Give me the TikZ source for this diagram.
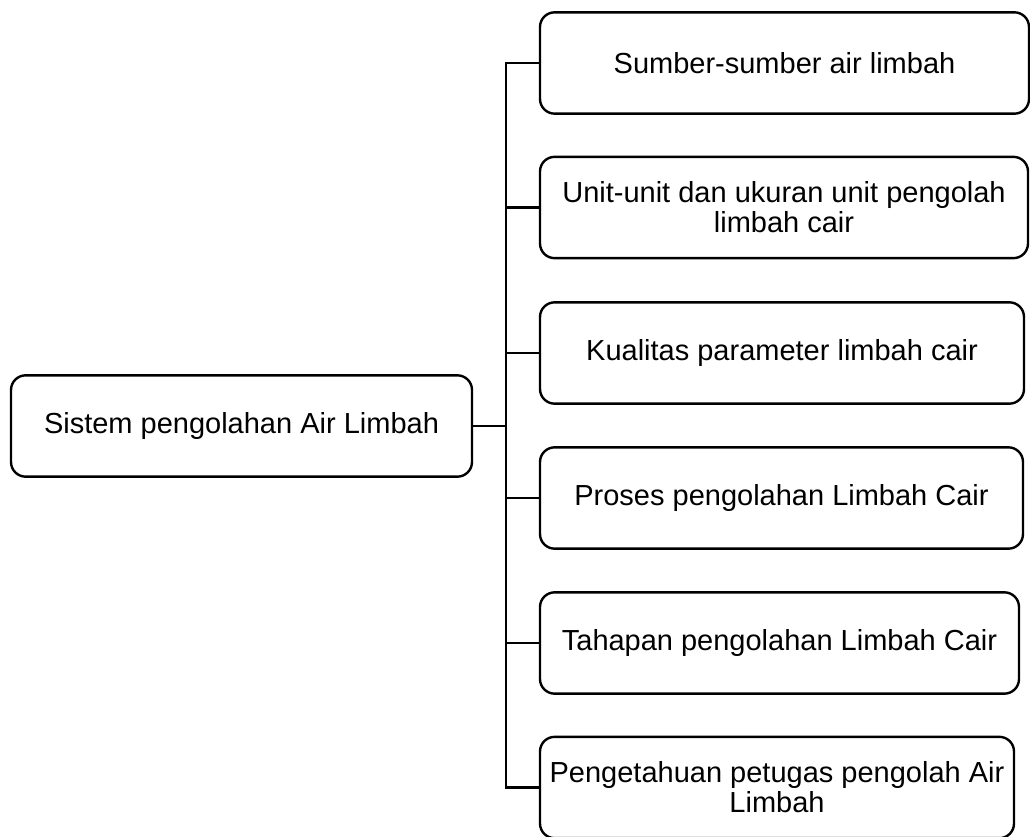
\documentclass[tikz,border=0pt]{standalone}
\usepackage{fontspec}
\setmainfont{Liberation Sans}
\begin{document}
\begin{tikzpicture}[x=0.75pt, y=-0.75pt,
    box/.style={shape=rectangle, draw, line width=1.8pt, rounded corners=11pt,
        minimum height=76pt, align=center, inner sep=2pt,
        font=\fontsize{21.75}{22.5}\selectfont},
    link/.style={line width=1.8pt}]
\useasboundingbox (0, 0) rectangle (1030, 837);
\node[box, minimum width=345.75pt] (N0) at (241.5, 426) {Sistem pengolahan Air Limbah};
\node[box, minimum width=366.75pt] (N1) at (784.5, 63) {Sumber-sumber air limbah};
\node[box, minimum width=366pt] (N2) at (784, 207.5) {Unit-unit dan ukuran unit pengolah\\limbah cair};
\node[box, minimum width=363pt] (N3) at (782, 353) {Kualitas parameter limbah cair};
\node[box, minimum width=362.25pt] (N4) at (781.5, 498) {Proses pengolahan Limbah Cair};
\node[box, minimum width=359.25pt] (N5) at (779.5, 643) {Tahapan pengolahan Limbah Cair};
\node[box, minimum width=355.5pt] (N6) at (777, 787.5) {Pengetahuan petugas pengolah Air\\Limbah};
\coordinate (J) at (506, 426);
\draw[link] (N0.east) -- (J);
\foreach \i in {1,...,6}
    \draw[link] (N\i.west) -| (J);
\end{tikzpicture}
\end{document}
